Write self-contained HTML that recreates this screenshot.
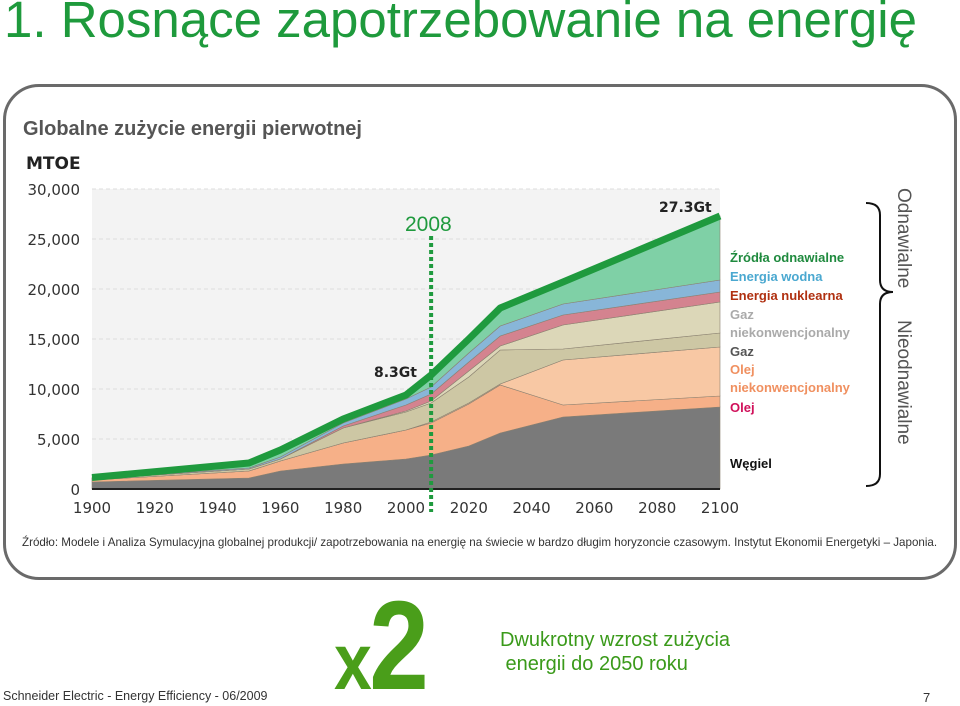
<!DOCTYPE html>
<html><head><meta charset="utf-8"><style>
body{margin:0;width:960px;height:706px;background:#fff;position:relative;overflow:hidden;font-family:"Liberation Sans",sans-serif}
.a{position:absolute;white-space:nowrap}
</style></head><body>
<div class="a" style="left:4px;top:-10px;font-size:51px;color:#1e9a3c">1. Rosnące zapotrzebowanie na energię</div>
<div class="a" style="left:3px;top:84px;width:948px;height:490px;border:3px solid #6a6a6a;border-radius:36px"></div>
<div class="a" style="left:23px;top:118px;font-size:20px;font-weight:bold;color:#555">Globalne zużycie energii pierwotnej</div>
<svg class="a" style="left:0;top:0" width="960" height="706" id="chart"></svg>
<div class="a" style="left:22px;top:536px;font-size:11.6px;color:#333">Źródło: Modele i Analiza Symulacyjna globalnej produkcji/ zapotrzebowania na energię na świecie w bardzo długim horyzoncie czasowym. Instytut Ekonomii Energetyki – Japonia.</div>
<div class="a" style="left:500px;top:628px;font-size:20px;color:#3a9a1a;line-height:24px">Dwukrotny wzrost zużycia<br>&nbsp;energii do 2050 roku</div>
<div class="a" style="left:3px;top:689px;font-size:12.5px;color:#333">Schneider Electric - Energy Efficiency - 06/2009</div>
<div class="a" style="left:923px;top:690px;font-size:13px;color:#333">7</div>
<script>
const years=[1900,1950,1960,1980,2000,2008,2020,2030,2050,2100];
const coal=[700,1100,1800,2500,3000,3400,4300,5600,7200,8200];
const oil=[200,700,1000,2100,2900,3200,4200,4800,1200,1100];
const oilUnconv=[0,0,0,0,0,100,100,100,4500,4900];
const gas=[100,200,200,1500,1800,1900,2600,3400,1100,1400];
const gasUnconv=[0,0,0,0,100,200,600,400,2400,3100];
const nuclear=[0,0,0,200,600,700,900,1000,1000,1000];
const hydro=[50,100,200,300,600,700,900,1000,1100,1200];
const renew=[100,500,700,400,400,1200,1400,1800,2200,6400];
const yTicks=[0,5000,10000,15000,20000,25000,30000];
const yTickLabels=["0","5,000","10,000","15,000","20,000","25,000","30,000"];
const xTicks=[1900,1920,1940,1960,1980,2000,2020,2040,2060,2080,2100];
const NS="http://www.w3.org/2000/svg",svg=document.getElementById('chart');
const X=y=>92+(y-1900)*(628/200), Y=v=>489-v*(300/30000);
function mk(t,a,p){const e=document.createElementNS(NS,t);for(const k in a)e.setAttribute(k,a[k]);(p||svg).appendChild(e);return e;}
const bg=mk('rect',{x:92,y:189,width:628,height:300,fill:'#f3f3f3'});


yTicks.forEach((v,i)=>{
 if(v>0){const g=mk('line',{x1:92,x2:720,y1:Y(v),y2:Y(v),stroke:'#ddd','stroke-dasharray':'4 3'});
 
 }
 const t=mk('text',{x:80,y:Y(v)+6,'text-anchor':'end','font-size':15,fill:'#333','font-family':'DejaVu Sans'});t.textContent=yTickLabels[i];
 
 
});
xTicks.forEach(v=>{const t=mk('text',{x:X(v),y:513,'text-anchor':'middle','font-size':15,fill:'#333','font-family':'DejaVu Sans'});t.textContent=v;
 
 });
const mt=mk('text',{x:26,y:169,'font-size':17,'font-weight':'bold',fill:'#222','font-family':'DejaVu Sans'});mt.textContent='MTOE';


const layers=[[coal,'#7a7a7a','coal'],[oil,'#f6b088','oil'],[oilUnconv,'#f8c8a4','oil-unconventional'],[gas,'#cdc7a4','gas'],[gasUnconv,'#dcd7b8','gas-unconventional'],[nuclear,'#d4838f','nuclear'],[hydro,'#88b6d8','hydro'],[renew,'#7fd0a6','renewables']];
let base=years.map(()=>0);
layers.forEach(([d,c,n])=>{
 const top=base.map((b,i)=>b+d[i]);
 let p='M'+years.map((y,i)=>X(y)+','+Y(top[i])).join('L')+'L'+years.slice().reverse().map((y,j)=>X(y)+','+Y(base[years.length-1-j])).join('L')+'Z';
 const e=mk('path',{d:p,fill:c,stroke:'#8a8070','stroke-width':0.6});
 
 
 base=top;
});
const tl=mk('polyline',{points:years.map((y,i)=>X(y)+','+Y(base[i])).join(' '),fill:'none',stroke:'#1f9a3e','stroke-width':7,'stroke-linejoin':'round'});


const ax=mk('line',{x1:92,x2:720,y1:489,y2:489,stroke:'#222','stroke-width':2});


const ml=mk('line',{x1:X(2008),x2:X(2008),y1:236,y2:512,stroke:'#1f9a3e','stroke-width':4,'stroke-dasharray':'4 3'});


function txt(x,y,s,a,n){const t=mk('text',Object.assign({x:x,y:y},a));t.textContent=s;
 
 return t;}
txt(405,231,'2008',{'font-size':21,fill:'#1f9a3e','font-family':'Liberation Sans'},'marker-2008-label');
txt(374,377,'8.3Gt',{'font-size':14,'font-weight':'bold',fill:'#222','font-family':'DejaVu Sans'},'label-8-3gt');
txt(659,212,'27.3Gt',{'font-size':14,'font-weight':'bold',fill:'#222','font-family':'DejaVu Sans'},'label-27-3gt');
const leg=[['Źródła odnawialne','#1f8a3e',262],['Energia wodna','#4aa8d0',281],['Energia nuklearna','#b03010',300],['Gaz','#aaa',319],['niekonwencjonalny','#aaa',337],['Gaz','#555',356],['Olej','#f09060',374],['niekonwencjonalny','#f09060',392],['Olej','#d0105a',412],['Węgiel','#111',468]];
leg.forEach(([s,c,y])=>txt(730,y,s,{'font-size':13,'font-weight':'bold',fill:c,'font-family':'Liberation Sans'},'legend-entry'));
const br=mk('path',{d:'M866,203 Q880,203 880,215 L880,280 Q880,292 893,292 Q880,292 880,304 L880,474 Q880,486 866,486',fill:'none',stroke:'#111','stroke-width':2});


txt(898,188,'Odnawialne',{'font-size':19,fill:'#555',transform:'rotate(90 898 188)','font-family':'Liberation Sans'},'renewable-group-label');
txt(898,320,'Nieodnawialne',{'font-size':19,fill:'#555',transform:'rotate(90 898 320)','font-family':'Liberation Sans'},'nonrenewable-group-label');
const xg=mk('text',{transform:'translate(334,689) scale(0.85,1)','font-family':'Liberation Sans','font-weight':'bold',fill:'#4a9e1a'});


const s1=mk('tspan',{'font-size':80},xg);s1.textContent='x';
const s2=mk('tspan',{'font-size':126,dx:-3},xg);s2.textContent='2';
</script>
</body></html>
